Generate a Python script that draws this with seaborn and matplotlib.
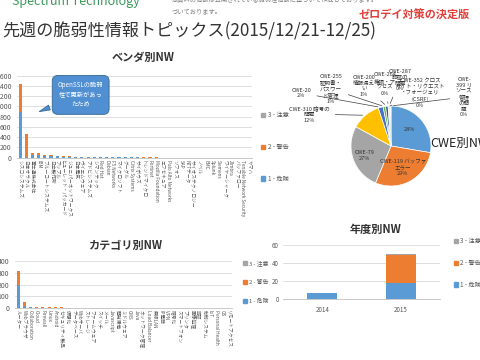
import numpy as np
import pandas as pd
import seaborn as sns
import matplotlib.pyplot as plt
from matplotlib.patches import Patch

sns.set_theme(style="white")
plt.rcParams["font.family"] = ["Noto Sans CJK JP", "DejaVu Sans"]

BLUE, ORANGE, GRAY = "#5B9BD5", "#ED7D31", "#A5A5A5"
levels = ["3 - 注意", "2 - 警告", "1 - 危険"]

# ベンダ別NW
vendors = ["シスコシステムズ", "日本オラクル", "富士通株式会社", "IBM", "ブルーコートシステムズ",
           "日立製作所", "アップル", "ヒューレット・パッカード", "ジュニパーネットワークス", "日本電気",
           "ヴイエムウェア", "アドビシステムズ", "シマンテック", "Red Hat", "Debian",
           "F5 Networks", "マイクロソフト", "グーグル", "Citrix Systems", "サイボウズ",
           "トレンドマイクロ", "Fortinet", "Mozilla Foundation", "エフセキュア", "Palo Alto Networks",
           "ソフォス", "SAP", "NTTデータ", "サイオステクノロジー", "ノベル",
           "EMC", "Splunk", "Siemens", "ワイヤーシャーク", "Zimbra",
           "バッファロー", "Tenable Network Security", "ヤマハ"]
vendor_danger = [886, 20, 60, 60, 35, 30, 25, 20, 15, 14, 10, 10, 8, 8, 6, 6, 5, 5, 4,
                 4, 3, 3, 3, 2, 2, 2, 2, 1, 1, 1, 1, 1, 1, 1, 1, 1, 1, 1]
vendor_warning = [546, 442, 40, 40, 25, 20, 15, 12, 10, 8, 6, 5, 4, 3, 3, 2, 2, 2, 2,
                  1, 1, 1, 1, 1, 1, 1, 0, 0, 0, 0, 0, 0, 0, 0, 0, 0, 0, 0]
vendor_caution = [0] * len(vendors)

# カテゴリ別NW
categories = ["ルーター", "Webブラウザ", "Collaboration", "Cloud", "Firewall", "Linux", "Android",
              "セキュリティ製品", "仮想化", "データベース", "Webサーバ", "ストレージ", "ファームウェア",
              "スイッチ", "メール", "Javascript", "開発環境", "ミドルウェア", "CMS", "Java",
              "ネットワーク管理", "Load Balancer", "無線LAN", "IP電話", "VPN", "暗号化",
              "スマートフォン", "プリンタ", "画像処理", "認証", "制御システム", "IoT",
              "Personal Health", "OS", "リモートアクセス"]
cat_danger = [196, 20, 8, 6, 5, 5, 4, 4, 3, 2, 2, 2, 1, 1, 1, 1, 1, 1, 1, 1,
              0, 0, 0, 0, 0, 0, 0, 0, 0, 0, 0, 0, 0, 0, 0]
cat_warning = [121, 36, 6, 5, 5, 4, 4, 3, 3, 2, 1, 1, 1, 1, 1, 0, 0, 0, 0, 0,
               0, 0, 0, 0, 0, 0, 0, 0, 0, 0, 0, 0, 0, 0, 0]
cat_caution = [0] * len(categories)

# 年度別NW
years = ["2014", "2015"]
year_danger = [6, 17]
year_warning = [0.5, 32]
year_caution = [0, 0.4]

# CWE別NW
cwe_names = ["その他", "CWE-119", "CWE-79", "CWE-310", "CWE-20", "CWE-255", "CWE-200",
             "CWE-264", "CWE-287", "CWE-352", "CWE-399"]
cwe_share = [28, 29, 27, 12, 2, 1, 1, 0.3, 0.3, 0.3, 0.3]
cwe_text = ["28%", "CWE-119 バッファ\nエラー\n29%", "CWE-79\n27%",
            "CWE-310 暗号の\n問題\n12%", "CWE-20\n2%", "CWE-255\n証明書・\nパスワー\nド管理\n1%",
            "CWE-200\n情報漏え\nい\n1%", "CWE-264\n権限・ア\nクセス\n0%", "CWE-287\n認証の\n問題\n0%",
            "CWE-352 クロス\nサイト・リクエスト\n・フォージェリ\n(CSRF)\n0%",
            "CWE-\n399 リ\nソース\n管理\nの問\n題\n0%"]
cwe_colors = ["#5B9BD5", "#ED7D31", "#A5A5A5", "#FFC000", "#4472C4", "#70AD47",
              "#255E91", "#9E480E", "#636363", "#997300", "#264478"]


def fx(x):
    return x / 480


def fy(y):
    return 1 - y / 360


def stacked(ax, names, danger, warning, caution, width):
    df = pd.DataFrame({"name": names, "danger": danger, "warning": warning, "caution": caution})
    df["dw"] = df["danger"] + df["warning"]
    df["total"] = df["dw"] + df["caution"]
    for col, c in [("total", GRAY), ("dw", ORANGE), ("danger", BLUE)]:
        sns.barplot(data=df, x="name", y=col, color=c, saturation=1, width=width, ax=ax,
                    linewidth=0, edgecolor="none")
    ax.set_xlabel("")
    ax.set_ylabel("")
    ax.yaxis.grid(True, color="#d9d9d9", lw=0.6)
    ax.set_axisbelow(True)
    for s in ["left", "top", "right"]:
        ax.spines[s].set_visible(False)
    ax.spines["bottom"].set_color("#bfbfbf")
    ax.spines["bottom"].set_linewidth(0.6)
    ax.tick_params(axis="both", length=0, pad=1.5, colors="#595959")
    ax.tick_params(axis="y", labelsize=5, pad=4)
    ax.set_xlim(-0.5, len(names) - 0.5)


handles = [Patch(color=GRAY), Patch(color=ORANGE), Patch(color=BLUE)]

fig = plt.figure(figsize=(4.8, 3.6), dpi=100)
fig.patch.set_facecolor("white")

# header
fig.text(fx(12), fy(1), "Spectrum Technology", fontsize=9, color="#3a9a5a", va="center")
fig.text(fx(172), fy(0), "本資料の情報は公開されている脆弱性情報に基づいて作成しております。",
         fontsize=4.5, color="#808080", va="center")
fig.text(fx(172), fy(11), "づいております。", fontsize=4.5, color="#808080", va="center")
fig.text(fx(414), fy(15), "ゼロデイ対策の決定版", fontsize=8, color="#e0403a",
         ha="center", va="center", fontweight="bold")
fig.text(fx(2), fy(31), "先週の脆弱性情報トピックス(2015/12/21-12/25)", fontsize=12.3,
         color="#333333", va="center")

# vendor chart
ax1 = fig.add_axes([fx(17), fy(157.7), 235 / 480, 82 / 360])
stacked(ax1, vendors, vendor_danger, vendor_warning, vendor_caution, 0.5)
ax1.set_ylim(0, 1600)
ax1.set_yticks(range(0, 1601, 200))
ax1.tick_params(axis="x", labelsize=3.4, labelrotation=-90)
ax1.annotate("OpenSSLの脆弱\n性で更新があっ\nたため", xy=(2.7, 880), xytext=(9.8, 1225),
             ha="center", va="center", fontsize=4.5, color="white", linespacing=1.3,
             bbox=dict(boxstyle="round,pad=0.9", fc="#4F8FD2", ec="#41719C", lw=0.7),
             arrowprops=dict(arrowstyle="wedge,tail_width=0.8", fc="#4F8FD2", ec="#41719C", lw=0.7))
fig.text(fx(143), fy(57), "ベンダ別NW", fontsize=8, fontweight="bold", color="#333333",
         ha="center", va="center")
fig.legend(handles, levels, loc="center left", bbox_to_anchor=(fx(255), fy(147)),
           frameon=False, fontsize=4.5, labelspacing=3.8, handlelength=0.7, handleheight=0.7,
           handletextpad=0.4, labelcolor="#595959")

# category chart
ax2 = fig.add_axes([fx(15), fy(308.3), 217 / 480, 47.6 / 360])
stacked(ax2, categories, cat_danger, cat_warning, cat_caution, 0.5)
ax2.set_ylim(0, 400)
ax2.set_yticks(range(0, 401, 100))
ax2.tick_params(axis="x", labelsize=3.4, labelrotation=-90)
fig.text(fx(125), fy(245), "カテゴリ別NW", fontsize=8, fontweight="bold", color="#333333",
         ha="center", va="center")
fig.legend(handles, levels, loc="center left", bbox_to_anchor=(fx(238), fy(282)),
           frameon=False, fontsize=4.2, labelspacing=2.4, handlelength=0.7, handleheight=0.7,
           handletextpad=0.3, labelcolor="#595959")

# year chart
ax3 = fig.add_axes([fx(283), fy(298.7), 157 / 480, 53.7 / 360])
stacked(ax3, years, year_danger, year_warning, year_caution, 0.38)
ax3.set_ylim(0, 60)
ax3.set_yticks(range(0, 61, 20))
ax3.tick_params(axis="y", labelsize=4.5, pad=3)
ax3.tick_params(axis="x", labelsize=4.5, pad=5)
fig.text(fx(376), fy(229), "年度別NW", fontsize=8, fontweight="bold", color="#333333",
         ha="center", va="center")
fig.legend(handles, levels, loc="center left", bbox_to_anchor=(fx(448), fy(263)),
           frameon=False, fontsize=4.5, labelspacing=2.2, handlelength=0.7, handleheight=0.7,
           handletextpad=0.4, labelcolor="#595959")

# CWE pie
ax4 = fig.add_axes([fx(351), fy(186), 80 / 480, 80 / 360])
ax4.pie(cwe_share, colors=cwe_colors, startangle=90, counterclock=False,
        wedgeprops=dict(edgecolor="white", linewidth=0.5))
ax4.set_xlim(-1, 1)
ax4.set_ylim(-1, 1)
fracs = np.array(cwe_share) / sum(cwe_share)
ends = 90 - 360 * np.cumsum(fracs)
mids = np.deg2rad(ends + 180 * fracs)
for i in range(3):
    r = 0.62 if i < 2 else 0.7
    ax4.text(r * np.cos(mids[i]), r * np.sin(mids[i]), cwe_text[i], fontsize=4,
             ha="center", va="center", color="#333333", linespacing=1.2)
label_pos = [(309, 114), (301, 93), (331, 89), (364, 86), (385, 84), (400, 80), (420, 93), (464, 97)]
for i, (px, py) in zip(range(3, len(cwe_share)), label_pos):
    ax4.annotate(cwe_text[i], xy=(np.cos(mids[i]), np.sin(mids[i])), xytext=(fx(px), fy(py)),
                 textcoords="figure fraction", fontsize=4, ha="center", va="center",
                 color="#333333", linespacing=1.2, annotation_clip=False,
                 arrowprops=dict(arrowstyle="-", lw=0.5, color="#404040"))
fig.text(fx(430), fy(143), "CWE別NW", fontsize=9, color="#222222", va="center")

fig.savefig("out.png", dpi=100)
